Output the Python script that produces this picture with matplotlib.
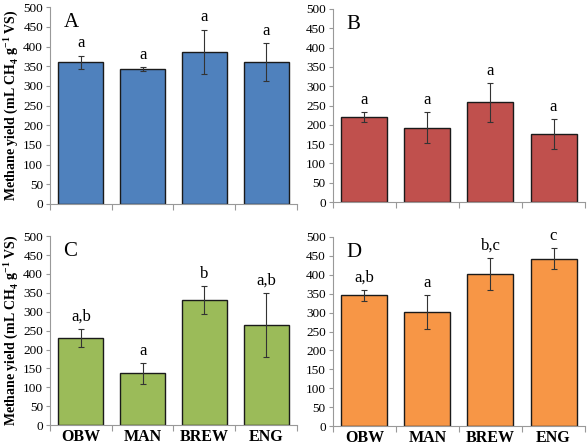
import matplotlib
matplotlib.use("Agg")
import matplotlib.pyplot as plt
import numpy as np

categories = ["OBW", "MAN", "BREW", "ENG"]
panel_labels = ["A", "B", "C", "D"]
values_A = [360, 342, 386, 360]
errors_A = [17, 5, 57, 48]
letters_A = ["a", "a", "a", "a"]
values_B = [221, 193, 258, 176]
errors_B = [13, 40, 50, 38]
letters_B = ["a", "a", "a", "a"]
values_C = [231, 137, 330, 265]
errors_C = [24, 28, 37, 85]
letters_C = ["a,b", "a", "b", "a,b"]
values_D = [346, 302, 403, 443]
errors_D = [14, 45, 42, 27]
letters_D = ["a,b", "a", "b,c", "c"]
yticks = [0, 50, 100, 150, 200, 250, 300, 350, 400, 450, 500]

colors = ["#4F81BD", "#C0504D", "#9BBB59", "#F79646"]
plt.rcParams['font.family'] = ['Liberation Serif', 'DejaVu Serif']

fig = plt.figure(figsize=(5.88, 4.48), dpi=100)
positions = [
    [0.085, 0.545, 0.42, 0.439],
    [0.566, 0.549, 0.429, 0.431],
    [0.085, 0.051, 0.42, 0.422],
    [0.566, 0.049, 0.429, 0.422],
]
data = [
    (values_A, errors_A, letters_A),
    (values_B, errors_B, letters_B),
    (values_C, errors_C, letters_C),
    (values_D, errors_D, letters_D),
]
ylabel = "Methane yield (mL CH$_\\mathregular{4}$ g$^\\mathregular{-1}$ VS)"
for i, (pos, (vals, errs, lets)) in enumerate(zip(positions, data)):
    ax = fig.add_axes(pos)
    x = np.arange(len(categories))
    ax.bar(x, vals, width=0.73, color=colors[i], edgecolor="#1a1a1a", linewidth=1.0, zorder=2)
    ax.errorbar(x, vals, yerr=errs, fmt="none", ecolor="#333333", elinewidth=0.8,
                capsize=2, capthick=0.8, zorder=3)
    for xi, v, e, l in zip(x, vals, errs, lets):
        ax.annotate(l, (xi, v + e), xytext=(0, 3), textcoords="offset points",
                    ha="center", va="bottom", fontsize=12)
    ax.set_xlim(-0.5, 3.5)
    ax.set_ylim(0, 500)
    ax.set_yticks(yticks)
    ax.tick_params(axis="y", labelsize=9.5, length=3, color="#999999", pad=2)
    ax.set_xticks(np.arange(-0.5, 4, 1), minor=False)
    ax.set_xticklabels([])
    ax.set_xticks(x, minor=True)
    ax.tick_params(axis="x", which="major", length=4, color="#999999")
    ax.tick_params(axis="x", which="minor", length=0, pad=3)
    if i >= 2:
        ax.set_xticklabels(categories, minor=True, fontsize=11.5, fontweight="bold")
    for s in ["top", "right"]:
        ax.spines[s].set_visible(False)
    for s in ["left", "bottom"]:
        ax.spines[s].set_color("#999999")
        ax.spines[s].set_linewidth(0.8)
    if i % 2 == 0:
        ax.set_ylabel(ylabel, fontsize=10, fontweight="bold", labelpad=2)
    ax.text(0.055, 0.97, panel_labels[i], transform=ax.transAxes, fontsize=15,
            ha="left", va="top")

fig.savefig("out.png", dpi=100)
